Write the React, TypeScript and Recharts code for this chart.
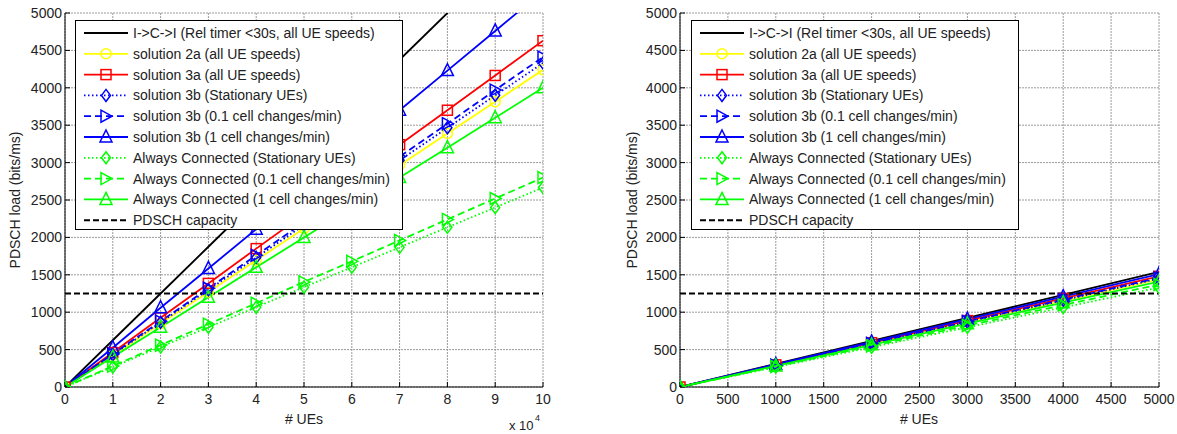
import { CartesianGrid, Line, LineChart, ReferenceLine, XAxis, YAxis } from "recharts";

const FONT = "'Liberation Sans', Arial, Helvetica, sans-serif";

// left panel: # UEs in units of 10^4
const LEFT_X = [0, 1, 2, 3, 4, 5, 6, 7, 8, 9, 10];
const LEFT_X_TICKS = [0, 1, 2, 3, 4, 5, 6, 7, 8, 9, 10];
const LEFT_ICI = [0, 625, 1250, 1875, 2500, 3125, 3750, 4375, 5000, 5625, 6250];
const LEFT_SOL2A = [0, 424, 848, 1270, 1695, 2120, 2545, 2965, 3390, 3815, 4240];
const LEFT_SOL3A = [0, 460, 925, 1385, 1850, 2310, 2775, 3240, 3700, 4165, 4630];
const LEFT_SOL3B_STAT = [0, 432, 865, 1300, 1730, 2165, 2600, 3030, 3465, 3900, 4330];
const LEFT_SOL3B_01 = [0, 440, 880, 1320, 1760, 2200, 2640, 3080, 3520, 3970, 4410];
const LEFT_SOL3B_1 = [0, 525, 1060, 1585, 2110, 2640, 3170, 3700, 4230, 4760, 5290];
const LEFT_AC_STAT = [0, 267, 535, 800, 1067, 1335, 1600, 1867, 2135, 2400, 2667];
const LEFT_AC_01 = [0, 280, 560, 840, 1120, 1405, 1680, 1960, 2240, 2520, 2800];
const LEFT_AC_1 = [0, 400, 800, 1200, 1600, 2000, 2400, 2800, 3200, 3600, 4000];

// right panel: # UEs
const RIGHT_X = [0, 1000, 2000, 3000, 4000, 5000];
const RIGHT_X_TICKS = [0, 500, 1000, 1500, 2000, 2500, 3000, 3500, 4000, 4500, 5000];
const RIGHT_ICI = [0, 308, 616, 924, 1232, 1540];
const RIGHT_SOL2A = [0, 288, 576, 864, 1152, 1440];
const RIGHT_SOL3A = [0, 296, 592, 888, 1184, 1480];
const RIGHT_SOL3B_STAT = [0, 290, 580, 870, 1160, 1450];
const RIGHT_SOL3B_01 = [0, 292, 584, 876, 1168, 1460];
const RIGHT_SOL3B_1 = [0, 302, 604, 906, 1208, 1510];
const RIGHT_AC_STAT = [0, 266, 532, 798, 1064, 1330];
const RIGHT_AC_01 = [0, 274, 548, 822, 1096, 1370];
const RIGHT_AC_1 = [0, 282, 564, 846, 1128, 1410];

const Y_TICKS = [0, 500, 1000, 1500, 2000, 2500, 3000, 3500, 4000, 4500, 5000];
const PDSCH_CAPACITY = 1250;

type Marker = "none" | "circle" | "square" | "diamond" | "triRight" | "triUp";

type SeriesDef = { key: string; name: string; color: string; dash?: string; marker: Marker };

const SERIES: SeriesDef[] = [
  { key: "ici", name: "I->C->I (Rel timer <30s, all UE speeds)", color: "#000000", marker: "none" },
  { key: "sol2a", name: "solution 2a (all UE speeds)", color: "#ffff00", marker: "circle" },
  { key: "sol3a", name: "solution 3a (all UE speeds)", color: "#ff0000", marker: "square" },
  { key: "sol3bStat", name: "solution 3b (Stationary UEs)", color: "#0000ff", dash: "1.5 2.5", marker: "diamond" },
  { key: "sol3b01", name: "solution 3b (0.1 cell changes/min)", color: "#0000ff", dash: "7 4", marker: "triRight" },
  { key: "sol3b1", name: "solution 3b (1 cell changes/min)", color: "#0000ff", marker: "triUp" },
  { key: "acStat", name: "Always Connected (Stationary UEs)", color: "#00ff00", dash: "1.5 2.5", marker: "diamond" },
  { key: "ac01", name: "Always Connected (0.1 cell changes/min)", color: "#00ff00", dash: "7 4", marker: "triRight" },
  { key: "ac1", name: "Always Connected (1 cell changes/min)", color: "#00ff00", marker: "triUp" },
];

function buildRows(xs: number[], cols: Record<string, number[]>) {
  return xs.map((x, i) => {
    const row: Record<string, number> = { x };
    Object.keys(cols).forEach((k) => (row[k] = cols[k][i]));
    return row;
  });
}

const leftData = buildRows(LEFT_X, {
  ici: LEFT_ICI,
  sol2a: LEFT_SOL2A,
  sol3a: LEFT_SOL3A,
  sol3bStat: LEFT_SOL3B_STAT,
  sol3b01: LEFT_SOL3B_01,
  sol3b1: LEFT_SOL3B_1,
  acStat: LEFT_AC_STAT,
  ac01: LEFT_AC_01,
  ac1: LEFT_AC_1,
});

const rightData = buildRows(RIGHT_X, {
  ici: RIGHT_ICI,
  sol2a: RIGHT_SOL2A,
  sol3a: RIGHT_SOL3A,
  sol3bStat: RIGHT_SOL3B_STAT,
  sol3b01: RIGHT_SOL3B_01,
  sol3b1: RIGHT_SOL3B_1,
  acStat: RIGHT_AC_STAT,
  ac01: RIGHT_AC_01,
  ac1: RIGHT_AC_1,
});

function MarkerShape({ cx, cy, marker, color }: { cx: number; cy: number; marker: Marker; color: string }) {
  const common = { fill: "none", stroke: color, strokeWidth: 1.5 };
  if (marker === "circle") return <circle cx={cx} cy={cy} r={5} {...common} />;
  if (marker === "square") return <rect x={cx - 5} y={cy - 5} width={10} height={10} {...common} />;
  if (marker === "diamond")
    return <polygon points={`${cx},${cy - 6} ${cx + 4.5},${cy} ${cx},${cy + 6} ${cx - 4.5},${cy}`} {...common} />;
  if (marker === "triRight")
    return <polygon points={`${cx - 5},${cy - 6} ${cx + 6},${cy} ${cx - 5},${cy + 6}`} {...common} />;
  if (marker === "triUp")
    return <polygon points={`${cx},${cy - 7} ${cx + 6},${cy + 5} ${cx - 6},${cy + 5}`} {...common} />;
  return null;
}

function dotFor(s: SeriesDef) {
  if (s.marker === "none") return false;
  return (props: any) => {
    const { cx, cy, index } = props;
    if (cx == null || cy == null) return <g key={index} />;
    return (
      <g key={index}>
        <MarkerShape cx={cx} cy={cy} marker={s.marker} color={s.color} />
      </g>
    );
  };
}

function LegendBox({ left }: { left: number }) {
  const rowH = 20.8;
  return (
    <div
      style={{
        position: "absolute",
        left,
        top: 20,
        width: 328,
        height: 210,
        border: "1.5px solid #000",
        background: "#fff",
        boxSizing: "border-box",
      }}
    >
      <svg width={326} height={208} style={{ display: "block" }}>
        {SERIES.map((s, i) => {
          const y = 12 + i * rowH;
          return (
            <g key={s.key}>
              <line x1={8} x2={52} y1={y} y2={y} stroke={s.color} strokeWidth={1.8} strokeDasharray={s.dash} />
              <MarkerShape cx={30} cy={y} marker={s.marker} color={s.color} />
              <text x={57} y={y + 5} fontSize={14} fontFamily={FONT} fill="#222">
                {s.name}
              </text>
            </g>
          );
        })}
        <line
          x1={8}
          x2={52}
          y1={12 + 9 * rowH}
          y2={12 + 9 * rowH}
          stroke="#000"
          strokeWidth={2}
          strokeDasharray="6 3"
        />
        <text x={57} y={12 + 9 * rowH + 5} fontSize={14} fontFamily={FONT} fill="#222">
          PDSCH capacity
        </text>
      </svg>
    </div>
  );
}

const tickStyle = { fontSize: 14, fontFamily: FONT, fill: "#222" };

function Panel({
  data,
  xDomain,
  xTicks,
  yAxisWidth,
  width,
}: {
  data: Record<string, number>[];
  xDomain: [number, number];
  xTicks: number[];
  yAxisWidth: number;
  width: number;
}) {
  return (
    <LineChart width={width} height={434} data={data} margin={{ top: 13, right: 17, left: 0, bottom: 0 }}>
      <CartesianGrid stroke="#9a9a9a" strokeDasharray="2 1" />
      <XAxis
        dataKey="x"
        type="number"
        domain={xDomain}
        ticks={xTicks}
        allowDataOverflow
        height={47}
        stroke="#000"
        tickSize={-5}
        tickMargin={12}
        tick={tickStyle}
        interval={0}
      />
      <XAxis
        xAxisId="top"
        orientation="top"
        dataKey="x"
        type="number"
        domain={xDomain}
        ticks={xTicks}
        allowDataOverflow
        height={0}
        stroke="#000"
        tickSize={-5}
        tickFormatter={() => ""}
        interval={0}
      />
      <YAxis
        type="number"
        domain={[0, 5000]}
        ticks={Y_TICKS}
        allowDataOverflow
        width={yAxisWidth}
        stroke="#000"
        tickSize={-5}
        tickMargin={8}
        tick={tickStyle}
        interval={0}
      />
      <YAxis
        yAxisId="right"
        orientation="right"
        type="number"
        domain={[0, 5000]}
        ticks={Y_TICKS}
        allowDataOverflow
        width={0}
        stroke="#000"
        tickSize={-5}
        tickFormatter={() => ""}
        interval={0}
      />
      {SERIES.map((s) => (
        <Line
          key={s.key}
          dataKey={s.key}
          name={s.name}
          stroke={s.color}
          strokeWidth={1.8}
          strokeDasharray={s.dash}
          dot={dotFor(s)}
          activeDot={false}
          type="linear"
          isAnimationActive={false}
        />
      ))}
      <ReferenceLine y={PDSCH_CAPACITY} stroke="#000" strokeWidth={2} strokeDasharray="6 3" />
    </LineChart>
  );
}

export default function App() {
  return (
    <div style={{ position: "absolute", left: 0, top: 0, width: 1177, height: 434, background: "#fff" }}>
      <div style={{ position: "absolute", left: 0, top: 0 }}>
        <Panel data={leftData} xDomain={[0, 10]} xTicks={LEFT_X_TICKS} yAxisWidth={65} width={560} />
      </div>
      <div style={{ position: "absolute", left: 580, top: 0 }}>
        <Panel data={rightData} xDomain={[0, 5000]} xTicks={RIGHT_X_TICKS} yAxisWidth={100} width={596} />
      </div>
      <svg
        width={1177}
        height={434}
        style={{ position: "absolute", left: 0, top: 0, pointerEvents: "none" }}
        fontFamily={FONT}
        fill="#222"
      >
        <text x={20} y={200} fontSize={14} textAnchor="middle" transform="rotate(-90 20 200)">
          PDSCH load (bits/ms)
        </text>
        <text x={637} y={200} fontSize={14} textAnchor="middle" transform="rotate(-90 637 200)">
          PDSCH load (bits/ms)
        </text>
        <text x={304} y={424} fontSize={14} textAnchor="middle">
          # UEs
        </text>
        <text x={919} y={424} fontSize={14} textAnchor="middle">
          # UEs
        </text>
        <text x={509} y={430} fontSize={13}>
          x 10
        </text>
        <text x={535} y={421} fontSize={9}>
          4
        </text>
      </svg>
      <LegendBox left={75} />
      <LegendBox left={691} />
    </div>
  );
}
